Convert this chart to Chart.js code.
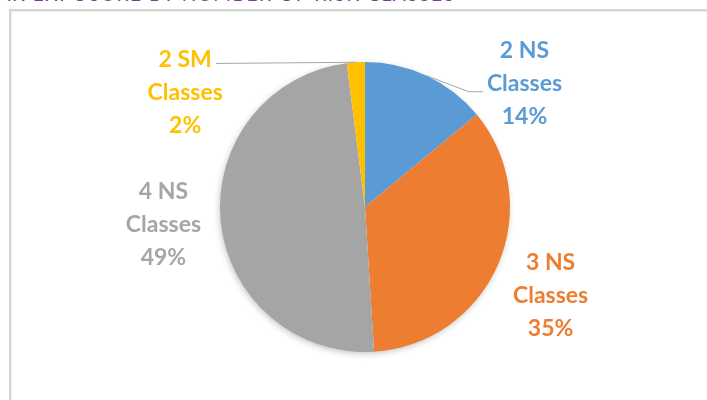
<!DOCTYPE html>
<html>
<head>
<meta charset="utf-8">
<script src="https://cdn.jsdelivr.net/npm/chart.js@4.4.1/dist/chart.umd.min.js"></script>
<style>
    html, body { margin: 0; padding: 0; background: #fff; overflow: hidden; }
    body { width: 707px; height: 400px; position: relative; }
    #titulo {
        position: absolute; left: -28px; top: -18px;
        font-family: Lato, sans-serif; font-size: 19px; letter-spacing: 1.6px;
        color: #7e3c93; white-space: nowrap;
    }
    #moldura {
        position: absolute; left: 9px; top: 9px; width: 720px; height: 420px;
        border-top: 2px solid #d6d6d6; border-left: 2px solid #d6d6d6;
        box-shadow: inset 1px 1px 0 #ececec;
    }
    #graficoClasses { position: absolute; left: 0; top: 0; }
</style>
</head>
<body>
<div id="titulo">PEAK EXPOSURE BY NUMBER OF RISK CLASSES</div>
<div id="moldura"></div>
<canvas id="graficoClasses" width="707" height="400"></canvas>
<script>
const categorias = ['2 NS Classes', '3 NS Classes', '4 NS Classes', '2 SM Classes'];
const valores = [14, 35, 49, 2];
const cores = ['#5b9bd5', '#ed7d31', '#a5a5a5', '#ffc000'];

// where each label sits, in multiples of the pie radius from its centre
const posRotulos = [[1.10, -0.85], [1.28, 0.61], [-1.39, 0.12], [-1.24, -0.79]];
// leader lines: which text row they reach and from which side
const linhasGuia = [
    { linha: 1, lado: 'esquerda', dy: 8, cotovelo: 14 },
    null,
    null,
    { linha: 0, lado: 'direita', dy: 4, cotovelo: 0 }
];

const sombraPizza = {
    id: 'sombraPizza',
    beforeDatasetsDraw(chart) {
        const arco = chart.getDatasetMeta(0).data[0];
        if (!arco) return;
        const ctx = chart.ctx;
        ctx.save();
        ctx.shadowColor = 'rgba(0,0,0,0.28)';
        ctx.shadowBlur = 7;
        ctx.shadowOffsetX = -1;
        ctx.shadowOffsetY = 2;
        ctx.fillStyle = '#ffffff';
        ctx.beginPath();
        ctx.arc(arco.x, arco.y, arco.outerRadius - 1, 0, Math.PI * 2);
        ctx.fill();
        ctx.restore();
    }
};

const rotulosPizza = {
    id: 'rotulosPizza',
    afterDatasetsDraw(chart) {
        const ctx = chart.ctx;
        const total = valores.reduce((a, b) => a + b, 0);
        const passo = 33;
        ctx.save();
        ctx.font = 'bold 23px Lato, sans-serif';
        ctx.textAlign = 'center';
        ctx.textBaseline = 'middle';
        chart.getDatasetMeta(0).data.forEach((arco, i) => {
            const r = arco.outerRadius;
            const cx = arco.x + posRotulos[i][0] * r;
            const cy = arco.y + posRotulos[i][1] * r;
            const linhas = [
                categorias[i].replace(' Classes', ''),
                'Classes',
                Math.round(valores[i] / total * 100) + '%'
            ];
            ctx.fillStyle = cores[i];
            linhas.forEach((txt, k) => ctx.fillText(txt, cx, cy + (k - 1) * passo));

            const guia = linhasGuia[i];
            if (!guia) return;
            const meio = (arco.startAngle + arco.endAngle) / 2;
            const ax = arco.x + Math.cos(meio) * r;
            const ay = arco.y + Math.sin(meio) * r;
            const w = ctx.measureText(linhas[guia.linha]).width;
            const ly = cy + (guia.linha - 1) * passo + guia.dy;
            const lx = guia.lado === 'esquerda' ? cx - w / 2 - 4 : cx + w / 2 + 4;
            const ex = guia.lado === 'esquerda' ? lx - guia.cotovelo : lx + guia.cotovelo;
            ctx.strokeStyle = '#a6a6a6';
            ctx.lineWidth = 1;
            ctx.beginPath();
            ctx.moveTo(ax, ay);
            ctx.lineTo(ex, ly);
            ctx.lineTo(lx, ly);
            ctx.stroke();
        });
        ctx.restore();
    }
};

function criarGraficoClasses() {
    const ctx = document.getElementById('graficoClasses').getContext('2d');

    window.graficoClasses = new Chart(ctx, {
        type: 'pie',
        data: {
            labels: categorias,
            datasets: [{
                data: valores,
                backgroundColor: cores,
                borderWidth: 0
            }]
        },
        options: {
            responsive: false,
            animation: false,
            layout: { padding: { top: 62, bottom: 48, left: 23, right: 0 } },
            plugins: {
                legend: { display: false },
                tooltip: { enabled: false }
            }
        },
        plugins: [sombraPizza, rotulosPizza]
    });
}

window.addEventListener('DOMContentLoaded', criarGraficoClasses);
</script>
</body>
</html>
